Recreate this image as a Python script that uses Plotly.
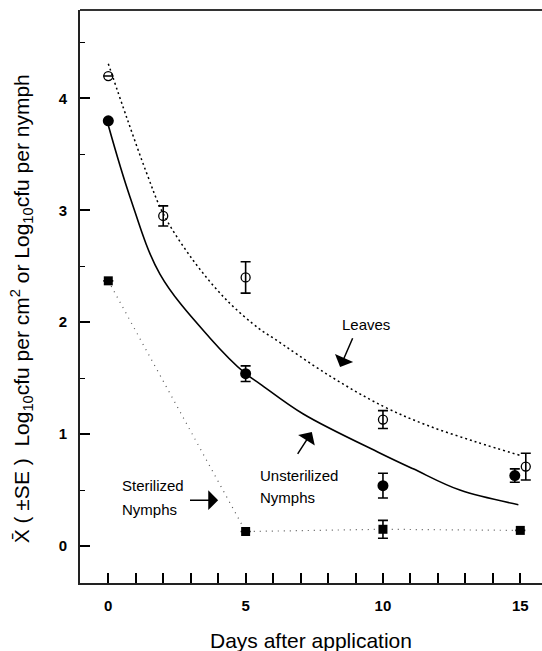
import plotly.graph_objects as go

# ---- data ----
leaves_days = [0, 2, 5, 10, 15.2]
leaves_mean = [4.20, 2.95, 2.40, 1.13, 0.71]
leaves_se = [None, 0.09, 0.14, 0.08, 0.12]

unster_days = [0, 5, 10, 14.8]
unster_mean = [3.80, 1.54, 0.54, 0.63]
unster_se = [None, 0.07, 0.11, 0.06]

ster_days = [0, 5, 10, 15]
ster_mean = [2.37, 0.13, 0.15, 0.14]
ster_se = [None, None, 0.08, None]

# fitted curves
leaves_fit_days = [0, 0.67, 1.4, 2, 3.1, 4.3, 5.5, 6.0, 8.0, 10.0, 11.6, 13.4, 15.0]
leaves_fit_val = [4.31, 3.83, 3.33, 2.97, 2.55, 2.20, 1.94, 1.86, 1.53, 1.25, 1.08, 0.93, 0.81]

unster_fit_days = [0, 0.79, 1.88, 3.7, 5.0, 5.52, 7.1, 9.9, 11.1, 12.8, 14.93]
unster_fit_val = [3.76, 3.12, 2.43, 1.86, 1.54, 1.45, 1.18, 0.83, 0.69, 0.50, 0.37]

x_tickvals = [0, 5, 10, 15]
x_ticktext = ["0", "5", "10", "15"]
y_tickvals = [0, 1, 2, 3, 4]
y_ticktext = ["0", "1", "2", "3", "4"]

FONT = "Liberation Sans, Arial, Helvetica, sans-serif"
ERR = dict(type="data", thickness=1.6, width=5, color="black")

fig = go.Figure()

# curves
fig.add_trace(go.Scatter(x=leaves_fit_days, y=leaves_fit_val, mode="lines",
                         line=dict(color="black", width=1.5, dash="2px,3px", shape="spline"),
                         hoverinfo="skip", showlegend=False))
fig.add_trace(go.Scatter(x=unster_fit_days, y=unster_fit_val, mode="lines",
                         line=dict(color="black", width=1.6, shape="spline"),
                         hoverinfo="skip", showlegend=False))
fig.add_trace(go.Scatter(x=ster_days, y=ster_mean, mode="lines",
                         line=dict(color="#555555", width=1.2, dash="1px,5px"),
                         hoverinfo="skip", showlegend=False))

# points
fig.add_trace(go.Scatter(x=leaves_days, y=leaves_mean, mode="markers",
                         marker=dict(symbol="circle-open", size=9, color="black", line=dict(width=1.3)),
                         error_y=dict(array=leaves_se, **ERR), showlegend=False))
fig.add_trace(go.Scatter(x=unster_days, y=unster_mean, mode="markers",
                         marker=dict(symbol="circle", size=11, color="black"),
                         error_y=dict(array=unster_se, **ERR), showlegend=False))
fig.add_trace(go.Scatter(x=ster_days, y=ster_mean, mode="markers",
                         marker=dict(symbol="square", size=9, color="black"),
                         error_y=dict(array=ster_se, **ERR), showlegend=False))

TXT = dict(family=FONT, size=15, color="black")
ARROW = dict(text="", showarrow=True, arrowhead=1, arrowsize=2.2, arrowwidth=1.5,
             arrowcolor="black", xref="x", yref="y", axref="x", ayref="y")
ann = [
    dict(x=9.38, y=1.98, xref="x", yref="y", text="Leaves", showarrow=False,
         font=TXT, xanchor="center", yanchor="middle"),
    dict(x=8.44, y=1.60, ax=8.92, ay=1.87, **ARROW),
    dict(x=5.46, y=0.634, xref="x", yref="y", text="Unsterilized", showarrow=False,
         font=TXT, xanchor="left", yanchor="middle"),
    dict(x=5.46, y=0.43, xref="x", yref="y", text="Nymphs", showarrow=False,
         font=TXT, xanchor="left", yanchor="middle"),
    dict(x=7.41, y=1.02, ax=6.86, ay=0.81, **ARROW),
    dict(x=0.43, y=0.545, xref="x", yref="y", text="Sterilized", showarrow=False,
         font=TXT, xanchor="left", yanchor="middle"),
    dict(x=0.43, y=0.33, xref="x", yref="y", text="Nymphs", showarrow=False,
         font=TXT, xanchor="left", yanchor="middle"),
    dict(x=4.0, y=0.41, ax=2.92, ay=0.41, **ARROW),
    # axis titles
    dict(x=0.5, y=-0.0995, xref="paper", yref="paper", text="Days after application",
         showarrow=False, font=dict(family=FONT, size=21, color="black"),
         xanchor="center", yanchor="middle"),
    dict(x=-0.126, y=0.479, xref="paper", yref="paper", textangle=-90,
         text="X\u0304 ( \u00b1SE )\u00a0\u00a0Log<sub>10</sub>cfu per cm<sup>2</sup> or Log<sub>10</sub>cfu per nymph",
         showarrow=False, font=dict(family=FONT, size=21, color="black"),
         xanchor="center", yanchor="middle"),
]

fig.update_layout(
    width=542, height=651,
    margin=dict(l=80, r=0, t=10, b=68),
    paper_bgcolor="white", plot_bgcolor="white",
    annotations=ann,
    shapes=[dict(type="line", xref="paper", yref="paper", x0=0, x1=1, y0=1, y1=1,
                 line=dict(color="#333333", width=2))],
    xaxis=dict(range=[-1.03, 15.79], showgrid=False, zeroline=False,
               showline=True, linecolor="#222222", linewidth=2,
               tickmode="array", tickvals=x_tickvals, ticktext=x_ticktext,
               ticks="inside", ticklen=10, tickwidth=1.5, tickcolor="black",
               minor=dict(dtick=1, tick0=0, ticks="inside", ticklen=10, tickwidth=1.5, tickcolor="black"),
               tickfont=dict(family=FONT, size=15, color="black", weight="bold"),
               ticklabelstandoff=8),
    yaxis=dict(range=[-0.33, 4.79], showgrid=False, zeroline=False,
               showline=True, linecolor="#222222", linewidth=2,
               tickmode="array", tickvals=y_tickvals, ticktext=y_ticktext,
               ticks="inside", ticklen=10, tickwidth=1.5, tickcolor="black",
               minor=dict(dtick=0.5, tick0=0, ticks="inside", ticklen=5, tickwidth=1.2, tickcolor="black"),
               tickfont=dict(family=FONT, size=15, color="black", weight="bold"),
               ticklabelstandoff=8),
)

fig.write_html("out.html", config={"displayModeBar": False},
               post_script="document.body.style.margin='0px';document.body.style.overflow='hidden';")
